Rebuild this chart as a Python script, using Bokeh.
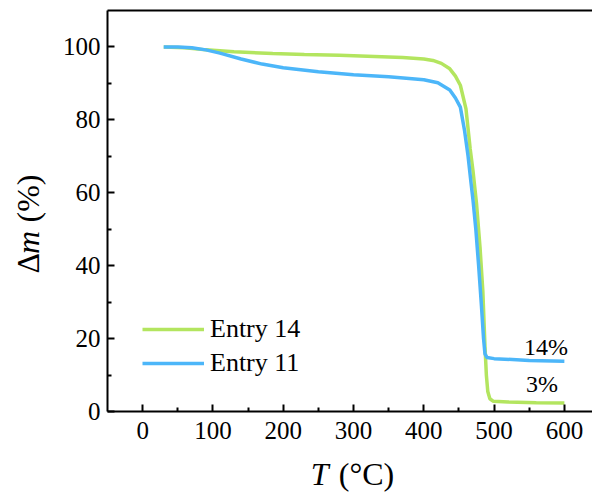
import numpy as np
from bokeh.plotting import figure
from bokeh.layouts import row, column
from bokeh.models import (LinearAxis, FixedTicker, Legend, LegendItem,
                          ColumnDataSource)
from bokeh.core.properties import value
from bokeh.embed import file_html
from bokeh.resources import INLINE

# ---- data ----
t_entry14 = [30, 60, 90, 130, 185, 230, 280, 330, 370, 400, 413, 425, 437, 445,
             452, 460, 466, 470, 475, 480, 484, 487, 489, 491, 494, 499, 520, 560, 600]
m_entry14 = [100, 99.8, 99.2, 98.7, 98.2, 97.9, 97.7, 97.4, 97.1, 96.7, 96.3, 95.5,
             94.0, 92.0, 89.5, 83.0, 72.0, 66.0, 57.0, 45.0, 33.0, 18.0, 10.0, 5.5,
             3.5, 2.8, 2.6, 2.4, 2.3]

t_entry11 = [30, 50, 70, 90, 110, 140, 170, 200, 250, 300, 350, 400, 420, 437, 445,
             452, 458, 463, 467, 470, 474, 478, 482, 485, 487, 490, 500, 550, 600]
m_entry11 = [100, 100, 99.8, 99.2, 98.3, 96.7, 95.3, 94.3, 93.2, 92.4, 91.8, 91.0,
             90.2, 88.2, 86.0, 83.5, 77.0, 70.0, 63.0, 58.0, 50.0, 40.0, 29.0, 20.0,
             15.8, 14.8, 14.5, 14.0, 13.8]

series_names = ["Entry 14", "Entry 11"]
annot_text = ["14%", "3%"]
annot_x = [574, 568]
annot_y = [17.8, 7.6]

x_ticks = [0, 100, 200, 300, 400, 500, 600]
x_minor = [50, 150, 250, 350, 450, 550]
y_ticks = [0, 20, 40, 60, 80, 100]
y_minor = [10, 30, 50, 70, 90]

# axis title pieces: (text, font style)
xtitle_parts = [("T", "italic"), ("(\u00b0C)", "normal")]
ytitle_parts = [("\u0394", "normal"), ("m", "italic"), ("(%)", "normal")]

GREEN = "#B3E55F"
BLUE = "#4CB6F9"
FONT = "Liberation Serif"

YLAB_W = 50
MAIN_W, MAIN_H = 542, 448
XLAB_H = 46

p = figure(width=MAIN_W, height=MAIN_H, x_range=(-50, 640), y_range=(0, 110),
           output_backend="svg", toolbar_location=None,
           min_border_left=57, min_border_right=0, min_border_top=10,
           min_border_bottom=37)
p.outline_line_color = None
p.xgrid.visible = False
p.ygrid.visible = False
p.background_fill_color = "white"
p.border_fill_color = "white"


def style_axis(ax, ticks, minor):
    ax.ticker = FixedTicker(ticks=ticks, minor_ticks=minor)
    ax.axis_line_width = 2
    ax.axis_line_color = "black"
    ax.major_tick_line_width = 2
    ax.minor_tick_line_width = 2
    ax.major_tick_in = 7
    ax.major_tick_out = 0
    ax.minor_tick_in = 4
    ax.minor_tick_out = 0
    ax.major_label_text_font = FONT
    ax.major_label_text_font_size = "25px"
    ax.major_label_text_color = "black"


xa = p.xaxis[0]
style_axis(xa, x_ticks, x_minor)
xa.major_label_standoff = 10

ya = p.yaxis[0]
style_axis(ya, y_ticks, y_minor)
ya.major_label_standoff = 7

top = LinearAxis(ticker=FixedTicker(ticks=[]), axis_line_width=2,
                 axis_line_color="black",
                 major_tick_line_color=None, minor_tick_line_color=None,
                 major_label_text_font_size="0px", major_label_standoff=0,
                 major_tick_out=0, major_tick_in=0)
p.add_layout(top, "above")

r14 = p.line(t_entry14, m_entry14, line_color=GREEN, line_width=3.5)
r11 = p.line(t_entry11, m_entry11, line_color=BLUE, line_width=3.5)

src = ColumnDataSource(dict(x=annot_x, y=annot_y, t=annot_text))
p.text(x="x", y="y", text="t", source=src, text_font=value(FONT),
       text_font_size="24px", text_align="center", text_baseline="alphabetic",
       text_color="black")

legend = Legend(items=[LegendItem(label=series_names[0], renderers=[r14]),
                       LegendItem(label=series_names[1], renderers=[r11])],
                location=(35, 33), glyph_width=62, glyph_height=20,
                label_standoff=6, spacing=4, padding=0, margin=0,
                border_line_color=None, background_fill_alpha=0,
                label_text_font=FONT, label_text_font_size="26px",
                label_text_color="black")
p.add_layout(legend, "center")


def label_fig(w, h):
    f = figure(width=w, height=h, x_range=(0, w), y_range=(0, h),
               output_backend="svg", toolbar_location=None,
               min_border=0, x_axis_type=None, y_axis_type=None)
    f.outline_line_color = None
    f.xgrid.visible = False
    f.ygrid.visible = False
    return f


# y-axis title (rotated, reads bottom to top), pieces placed side by side
ylab = label_fig(YLAB_W, MAIN_H + XLAB_H)
ypos = [221.0, 240.6, 272.0]
for (txt, style), yy in zip(ytitle_parts, ypos):
    ylab.text(x=[27], y=[yy], text=[txt], angle=np.pi / 2,
              text_font=value(FONT), text_font_size="32px",
              text_font_style=style, text_align="left",
              text_baseline="alphabetic", text_color="black")

# x-axis title
xlab = label_fig(MAIN_W, XLAB_H)
xpos = [227.0, 258.5]
for (txt, style), xx in zip(xtitle_parts, xpos):
    xlab.text(x=[xx], y=[21], text=[txt], text_font=value(FONT),
              text_font_size="32px", text_font_style=style, text_align="left",
              text_baseline="alphabetic", text_color="black")

layout = row(ylab, column(p, xlab, spacing=0), spacing=0)

open("out.html", "w").write(file_html(layout, INLINE))
